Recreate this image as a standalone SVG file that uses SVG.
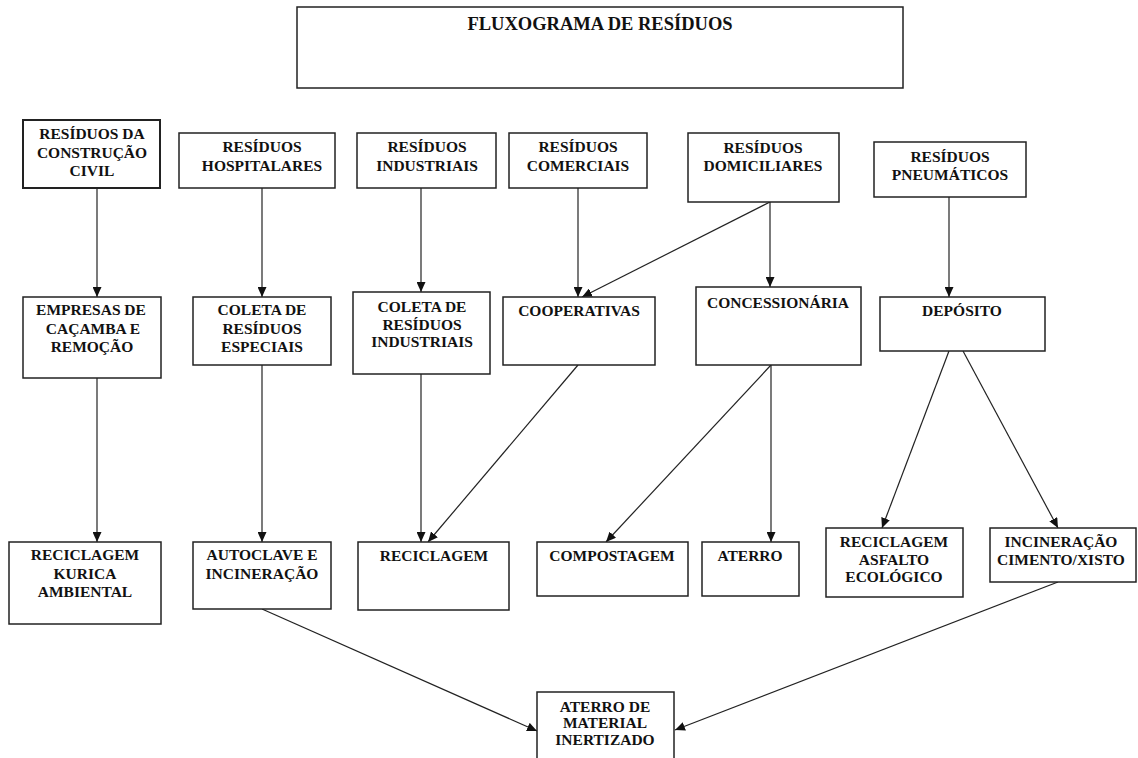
<svg xmlns="http://www.w3.org/2000/svg" width="1138" height="758" viewBox="0 0 1138 758">
<style>
.box{fill:#fff;stroke:#222;stroke-width:1.5}
text{font-family:"Liberation Serif","Times New Roman",serif;font-weight:bold;font-size:15.5px;fill:#111;text-anchor:middle}
.title{font-size:18.5px}
#connectors line{stroke:#222;stroke-width:1.2}
</style>
<defs>
<marker id="ah" markerUnits="userSpaceOnUse" markerWidth="10" markerHeight="9" refX="10" refY="4.5" orient="auto">
<path d="M0,0 L10,4.5 L0,9 z" fill="#111"/>
</marker>
</defs>
<g id="title"><rect class="box" x="297" y="7" width="606" height="81"/><text class="title" x="600" y="30">FLUXOGRAMA DE RESÍDUOS</text></g>
<g id="connectors">
<line x1="97" y1="188" x2="97" y2="297" marker-end="url(#ah)"/>
<line x1="262" y1="188" x2="262" y2="297" marker-end="url(#ah)"/>
<line x1="421" y1="188" x2="421" y2="292" marker-end="url(#ah)"/>
<line x1="578" y1="188" x2="578" y2="297" marker-end="url(#ah)"/>
<line x1="770" y1="202" x2="582" y2="297" marker-end="url(#ah)"/>
<line x1="770" y1="202" x2="770" y2="287" marker-end="url(#ah)"/>
<line x1="949" y1="197" x2="949" y2="297" marker-end="url(#ah)"/>
<line x1="97" y1="378" x2="97" y2="542" marker-end="url(#ah)"/>
<line x1="262" y1="365" x2="262" y2="542" marker-end="url(#ah)"/>
<line x1="421" y1="374" x2="421" y2="542" marker-end="url(#ah)"/>
<line x1="578" y1="365" x2="428" y2="542" marker-end="url(#ah)"/>
<line x1="771" y1="365" x2="606" y2="542" marker-end="url(#ah)"/>
<line x1="771" y1="365" x2="771" y2="542" marker-end="url(#ah)"/>
<line x1="949" y1="351" x2="882" y2="528" marker-end="url(#ah)"/>
<line x1="963" y1="351" x2="1058" y2="528" marker-end="url(#ah)"/>
<line x1="262" y1="609" x2="537" y2="731" marker-end="url(#ah)"/>
<line x1="1058" y1="582" x2="675" y2="730" marker-end="url(#ah)"/>
</g>
<g id="construcao"><rect class="box" x="23" y="120" width="137" height="68" style="stroke-width:2"/><text x="92" y="139">RESÍDUOS DA</text><text x="92" y="158">CONSTRUÇÃO</text><text x="92" y="176">CIVIL</text></g>
<g id="hospitalares"><rect class="box" x="179" y="133" width="156" height="55"/><text x="262" y="152">RESÍDUOS</text><text x="262" y="171">HOSPITALARES</text></g>
<g id="industriais"><rect class="box" x="357" y="133" width="139" height="55"/><text x="427" y="152">RESÍDUOS</text><text x="427" y="171">INDUSTRIAIS</text></g>
<g id="comerciais"><rect class="box" x="509" y="133" width="138" height="55"/><text x="578" y="152">RESÍDUOS</text><text x="578" y="171">COMERCIAIS</text></g>
<g id="domiciliares"><rect class="box" x="688" y="133" width="151" height="69"/><text x="763" y="153">RESÍDUOS</text><text x="763" y="171">DOMICILIARES</text></g>
<g id="pneumaticos"><rect class="box" x="874" y="142" width="152" height="55"/><text x="950" y="162">RESÍDUOS</text><text x="950" y="180">PNEUMÁTICOS</text></g>
<g id="empresas"><rect class="box" x="23" y="297" width="138" height="81"/><text x="91" y="315">EMPRESAS DE</text><text x="93" y="334">CAÇAMBA E</text><text x="92" y="352">REMOÇÃO</text></g>
<g id="coleta-especiais"><rect class="box" x="193" y="297" width="138" height="68"/><text x="262" y="315">COLETA DE</text><text x="262" y="334">RESÍDUOS</text><text x="262" y="352">ESPECIAIS</text></g>
<g id="coleta-industriais"><rect class="box" x="353" y="292" width="137" height="82"/><text x="422" y="312">COLETA DE</text><text x="422" y="330">RESÍDUOS</text><text x="422" y="347">INDUSTRIAIS</text></g>
<g id="cooperativas"><rect class="box" x="503" y="297" width="152" height="68"/><text x="579" y="316">COOPERATIVAS</text></g>
<g id="concessionaria"><rect class="box" x="696" y="287" width="165" height="78"/><text x="778" y="308">CONCESSIONÁRIA</text></g>
<g id="deposito"><rect class="box" x="880" y="297" width="165" height="54"/><text x="962" y="316">DEPÓSITO</text></g>
<g id="kurica"><rect class="box" x="9" y="542" width="152" height="82"/><text x="85" y="560">RECICLAGEM</text><text x="85" y="579">KURICA</text><text x="85" y="597">AMBIENTAL</text></g>
<g id="autoclave"><rect class="box" x="193" y="542" width="138" height="67"/><text x="262" y="560">AUTOCLAVE E</text><text x="262" y="579">INCINERAÇÃO</text></g>
<g id="reciclagem"><rect class="box" x="358" y="542" width="151" height="68"/><text x="434" y="561">RECICLAGEM</text></g>
<g id="compostagem"><rect class="box" x="537" y="542" width="151" height="54"/><text x="612" y="561">COMPOSTAGEM</text></g>
<g id="aterro"><rect class="box" x="702" y="542" width="97" height="54"/><text x="750" y="561">ATERRO</text></g>
<g id="asfalto"><rect class="box" x="826" y="528" width="137" height="69"/><text x="894" y="547">RECICLAGEM</text><text x="894" y="565">ASFALTO</text><text x="894" y="582">ECOLÓGICO</text></g>
<g id="incineracao"><rect class="box" x="990" y="528" width="146" height="54"/><text x="1061" y="547">INCINERAÇÃO</text><text x="1061" y="565">CIMENTO/XISTO</text></g>
<g id="aterro-inertizado"><rect class="box" x="537" y="692" width="137" height="70"/><text x="605" y="712">ATERRO DE</text><text x="605" y="728">MATERIAL</text><text x="605" y="745">INERTIZADO</text></g>
</svg>
